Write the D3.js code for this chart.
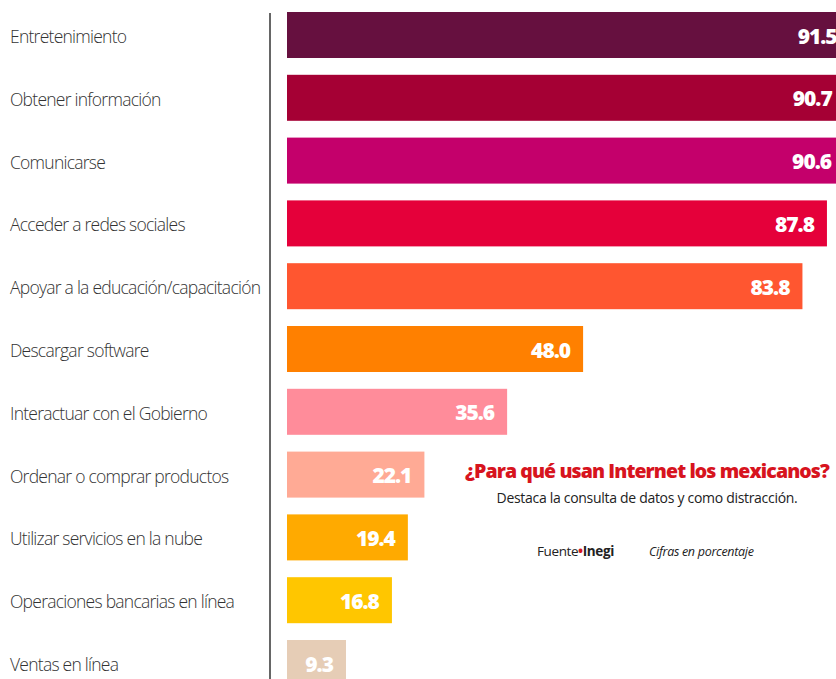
<!DOCTYPE html>
<html><head><meta charset="utf-8">
<script src="https://cdn.jsdelivr.net/npm/d3@7"></script>
<style>
body{margin:0;background:#fff;}
svg{display:block;}
</style></head>
<body>
<svg id="chart" width="836" height="679"></svg>
<script>
const categories = ["Entretenimiento","Obtener información","Comunicarse","Acceder a redes sociales","Apoyar a la educación/capacitación","Descargar software","Interactuar con el Gobierno","Ordenar o comprar productos","Utilizar servicios en la nube","Operaciones bancarias en línea","Ventas en línea"];
const values = [91.5,90.7,90.6,87.8,83.8,48.0,35.6,22.1,19.4,16.8,9.3];
const colors = ["#66103F","#A50034","#C4006B","#E5003A","#FF5630","#FF8000","#FF8C9A","#FFAA95","#FFAA00","#FFC600","#E6CDB6"];

const svg = d3.select("#chart");
const x = d3.scaleLinear().domain([0,100]).range([289, 289+612.7]);
const yb = d3.scaleLinear().domain([0,11]).range([12, 12+62.8*11]);

svg.append("line").attr("x1",270).attr("x2",270).attr("y1",13).attr("y2",679)
  .attr("stroke","#666").attr("stroke-width",2);

const g = svg.selectAll("g.bar").data(categories).join("g").attr("class","bar")
  .attr("transform",(d,i)=>`translate(0,${yb(i)})`);

g.append("rect").attr("x",287).attr("y",0).attr("height",46)
  .attr("width",(d,i)=>x(values[i])-287).attr("fill",(d,i)=>colors[i]);

g.append("text").attr("x",(d,i)=>x(values[i])-13).attr("y",31.5)
  .attr("text-anchor","end").attr("fill","#fff")
  .style("font-family","'Open Sans'").style("font-weight",800).style("font-size","21px").style("letter-spacing","-1px")
  .text((d,i)=>values[i].toFixed(1));

g.append("text").attr("x",10).attr("y",31)
  .attr("fill","#333").style("font-family","'Open Sans'").style("font-weight",300).style("font-size","17.5px").style("letter-spacing","-0.75px")
  .text(d=>d);

svg.append("text").attr("x",647).attr("y",478).attr("text-anchor","middle")
  .attr("fill","#D7141E").style("font-family","'Open Sans'").style("font-weight",800).style("font-size","19.5px").style("letter-spacing","-0.9px")
  .text("¿Para qué usan Internet los mexicanos?");
svg.append("text").attr("x",647).attr("y",503).attr("text-anchor","middle")
  .attr("fill","#222").style("font-family","'Open Sans'").style("font-size","14px").style("letter-spacing","-0.3px")
  .text("Destaca la consulta de datos y como distracción.");
const f = svg.append("text").attr("x",537).attr("y",556).attr("fill","#222")
  .style("font-family","'Open Sans'").style("font-size","13.5px").style("letter-spacing","-0.4px");
f.append("tspan").text("Fuente");
f.append("tspan").attr("fill","#D7141E").style("font-weight",700).text("•");
f.append("tspan").style("font-weight",700).text("Inegi");
svg.append("text").attr("x",649).attr("y",556).attr("fill","#222")
  .style("font-family","'Open Sans'").style("font-style","italic").style("font-size","12.5px").style("letter-spacing","-0.3px")
  .text("Cifras en porcentaje");
</script>
</body></html>
